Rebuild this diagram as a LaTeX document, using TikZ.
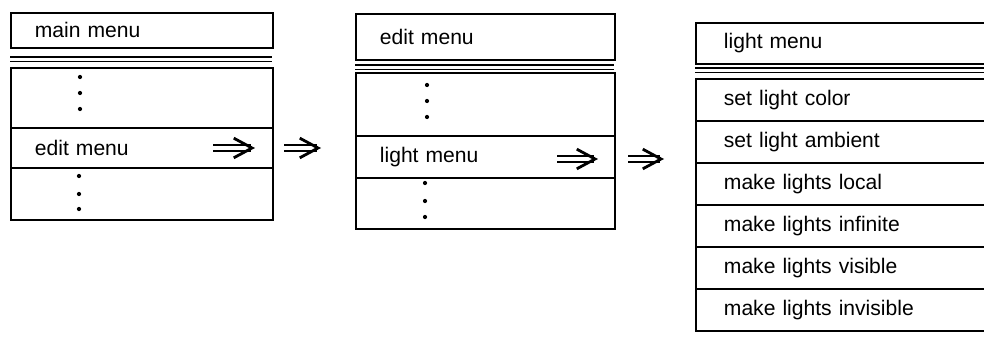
\documentclass[tikz,border=0pt]{standalone}
\usepackage{fontspec}
\setmainfont{Liberation Sans}
\usetikzlibrary{arrows.meta}

\begin{document}
\begin{tikzpicture}[x=0.025cm, y=-0.025cm,
  item/.style={draw, line width=1.3pt, anchor=north west, inner xsep=0.6cm, inner ysep=0pt, align=left, font=\fontsize{15}{18}\selectfont},
  colA/.style={item, text width=5.35cm},
  colB/.style={item, text width=5.275cm},
  colC/.style={item, text width=6.1cm, inner xsep=0.7cm, minimum height=1.05cm},
  sepline/.style={line width=1pt},
  implarrow/.style={double, double distance=2.2pt, line width=1.7pt, -{Straight Barb[length=13pt, width=14pt, line width=2pt]}}
]
\useasboundingbox (0,0) rectangle (984,339);

% main menu
\node[colA, minimum height=0.875cm] (mtitle) at (10,12) {main menu};
\node[colA, minimum height=1.5cm] (mtop) at (10,67) {};
\node[colA, minimum height=1cm] (medit) at (10,127) {edit menu};
\node[colA, minimum height=1.3cm] (mbot) at (10,167) {};
\draw[sepline] (10,57) -- (272,57) (10,61.5) -- (272,61.5);
\fill (80,77) circle (1.5pt) (80,93) circle (1.5pt) (80,109) circle (1.5pt);
\fill (79,176) circle (1.5pt) (79,194) circle (1.5pt) (79,209) circle (1.5pt);

% edit menu
\node[colB, minimum height=1.15cm] (etitle) at (355,13) {edit menu};
\node[colB, minimum height=1.575cm] (etop) at (355,72) {};
\node[colB, minimum height=1.05cm] (elight) at (355,135) {light menu};
\node[colB, minimum height=1.275cm] (ebot) at (355,177) {};
\draw[sepline] (355,65) -- (614,65) (355,69.5) -- (614,69.5);
\fill (427,85) circle (1.5pt) (427,101) circle (1.5pt) (427,117) circle (1.5pt);
\fill (425,183) circle (1.5pt) (425,201) circle (1.5pt) (425,217) circle (1.5pt);

% light menu
\node[colC, minimum height=1.025cm] (ltitle) at (695,22) {light menu};
\node[colC] (lcolor) at (695,78) {set light color};
\node[colC] (lambient) at (695,120) {set light ambient};
\node[colC] (llocal) at (695,162) {make lights local};
\node[colC] (linfinite) at (695,204) {make lights infinite};
\node[colC] (lvisible) at (695,246) {make lights visible};
\node[colC] (linvisible) at (695,288) {make lights invisible};
\draw[sepline] (695,68) -- (995,68) (695,72.5) -- (995,72.5);

% arrows
\coordinate (a1s) at (213,148);
\coordinate (a1e) at (255,148);
\coordinate (a2s) at (284,148);
\coordinate (a2e) at (321,148);
\coordinate (a3s) at (557,159);
\coordinate (a3e) at (598,159);
\coordinate (a4s) at (628,159);
\coordinate (a4e) at (664,159);
\draw[implarrow] (a1s) -- (a1e);
\draw[implarrow] (a2s) -- (a2e);
\draw[implarrow] (a3s) -- (a3e);
\draw[implarrow] (a4s) -- (a4e);

\end{tikzpicture}
\end{document}
